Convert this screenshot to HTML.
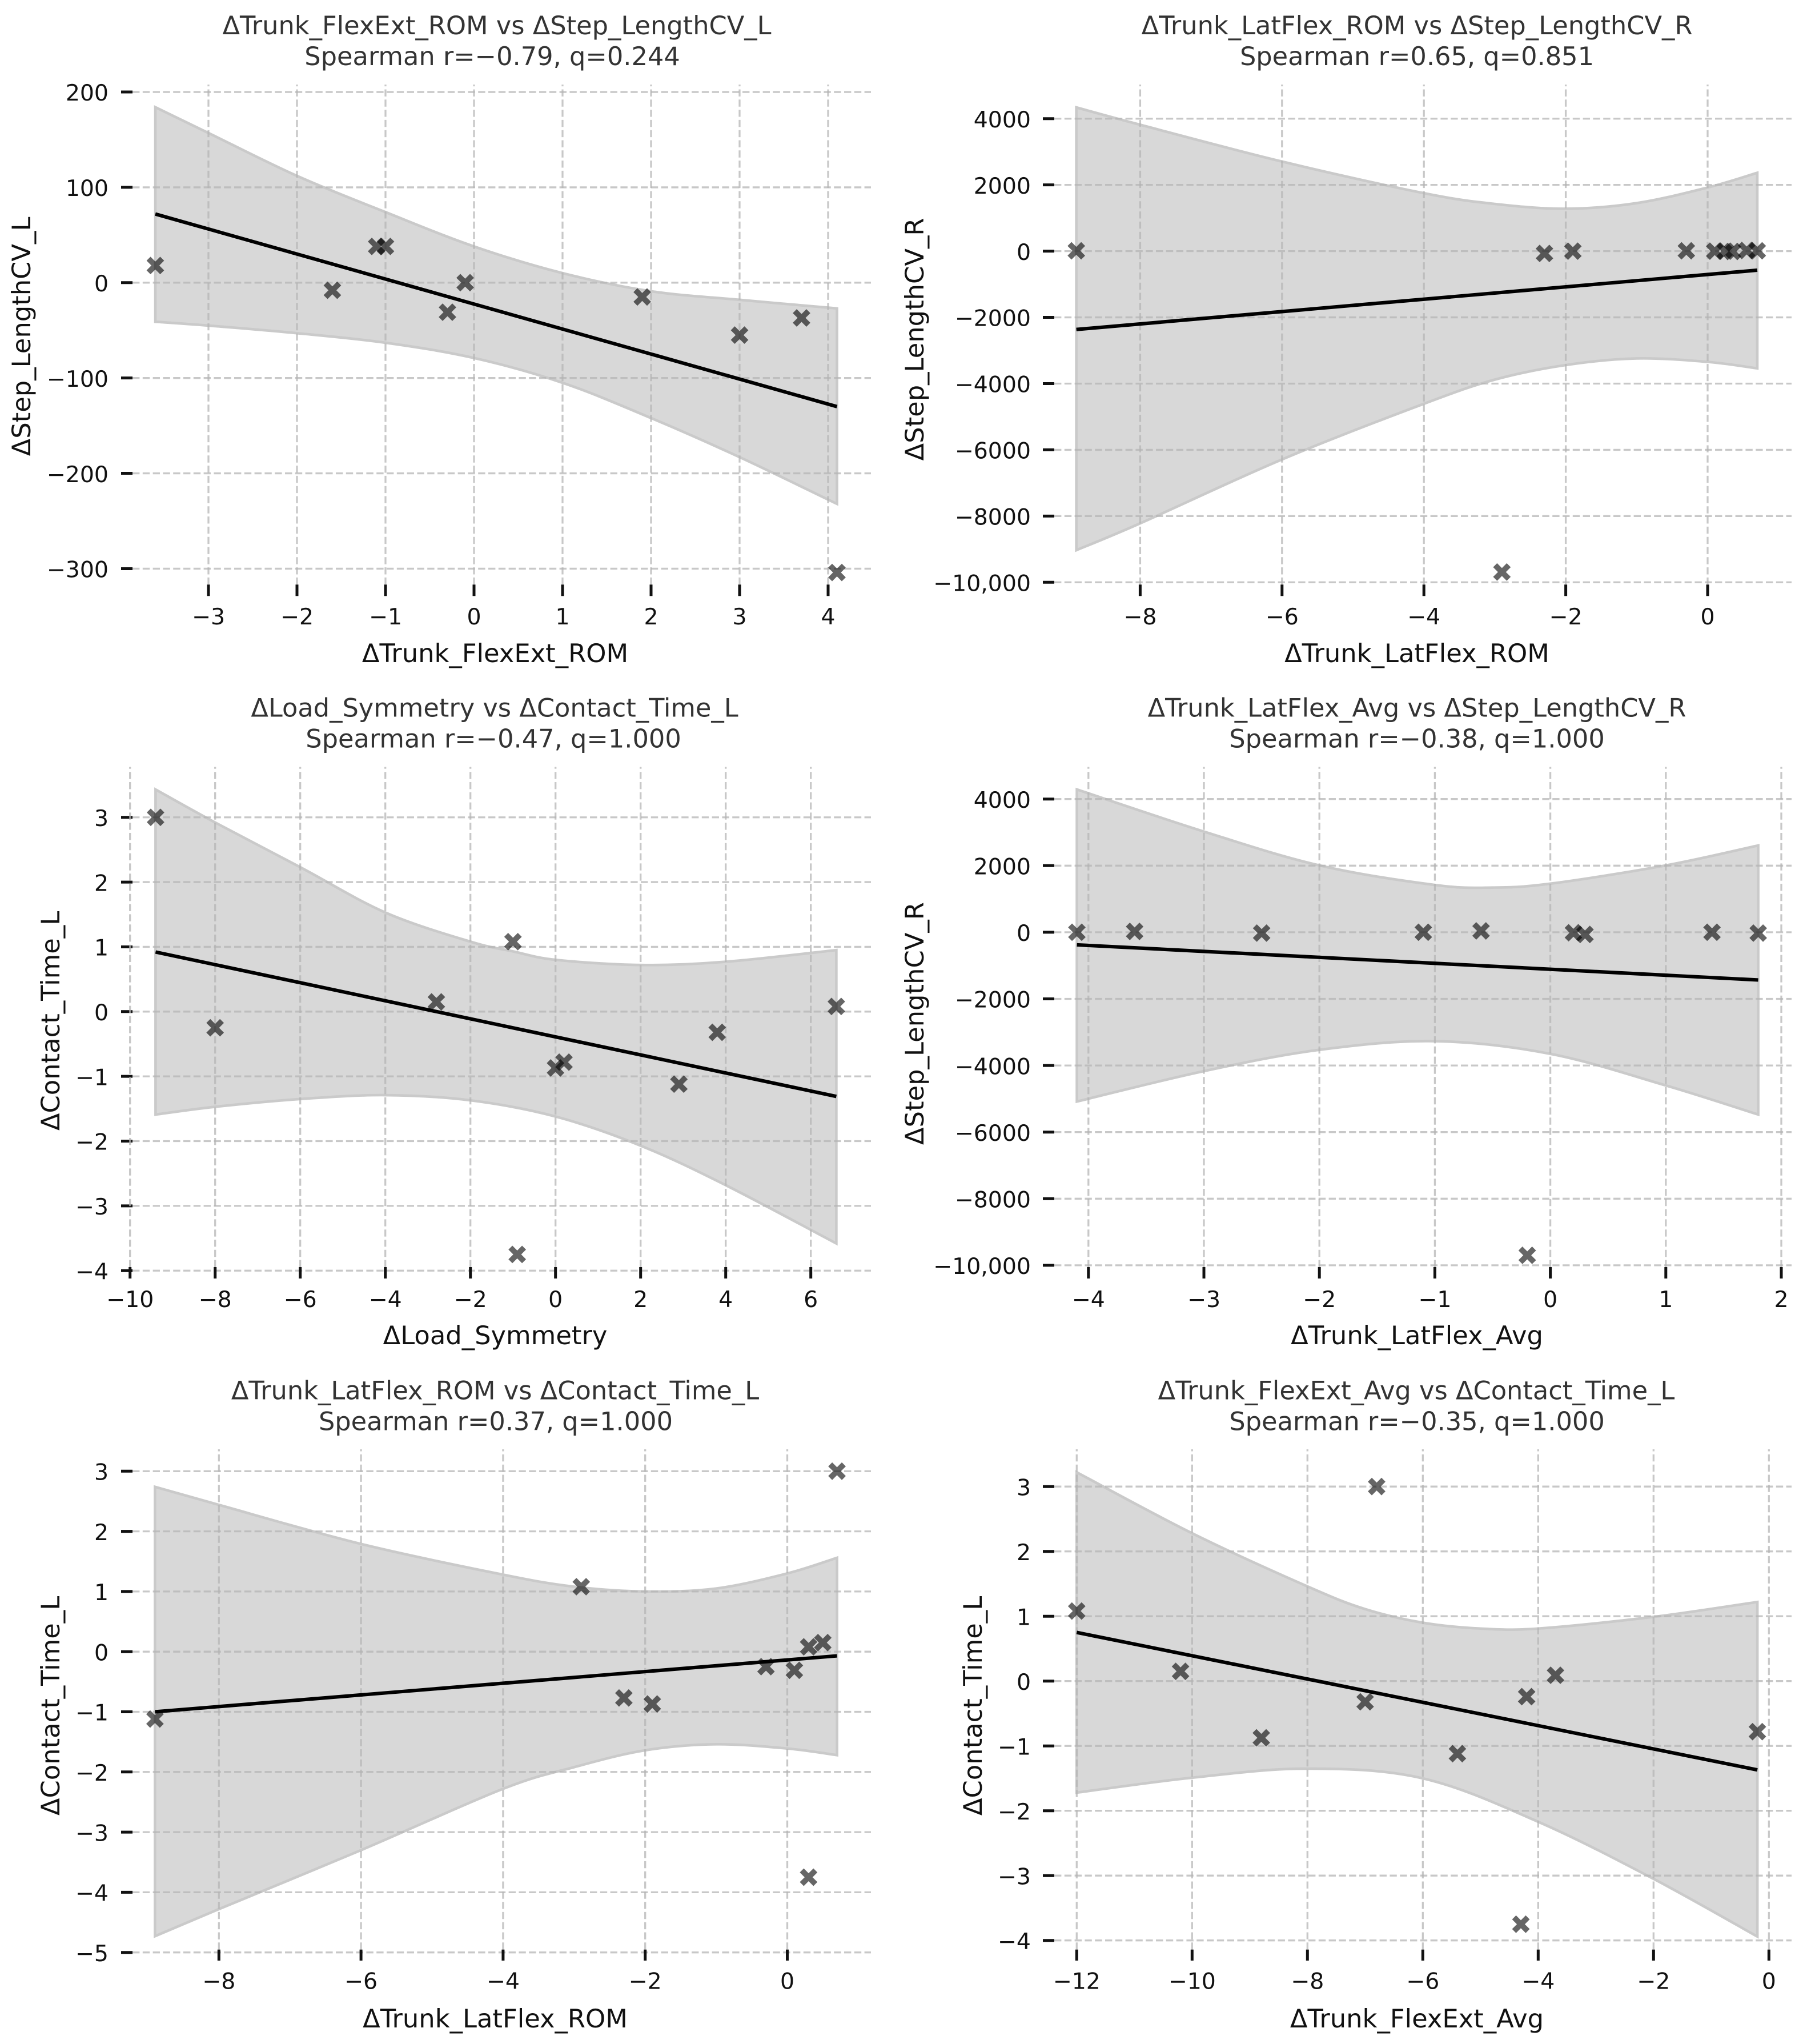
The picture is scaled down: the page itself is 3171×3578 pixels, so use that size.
<!DOCTYPE html>
<html lang="en">
<head>
<meta charset="utf-8">
<title>Spearman correlation scatter panels</title>
<style>
html,body{margin:0;padding:0;background:#fff;}
svg{display:block;}
text{font-family:"DejaVu Sans","Liberation Sans",sans-serif;}
.title{font-size:44.7px;fill:#333;text-anchor:middle;}
.axis-label{font-size:44.8px;fill:#111;text-anchor:middle;}
.tick-label{font-size:39.4px;fill:#111;}
</style>
</head>
<body>
<svg id="figure" xmlns="http://www.w3.org/2000/svg" width="3171" height="3578" viewBox="0 0 3171 3578">
<rect x="0" y="0" width="3171" height="3578" fill="#fff"/>

<g id="panel-1">
<text class="title" x="870" y="60">ΔTrunk_FlexExt_ROM vs ΔStep_LengthCV_L</text>
<text class="title" x="862" y="114">Spearman r=−0.79, q=0.244</text>
<text class="axis-label" x="867" y="1159">ΔTrunk_FlexExt_ROM</text>
<text class="axis-label" transform="translate(53,589) rotate(-90)">ΔStep_LengthCV_L</text>
</g>

<g id="panel-2">
<text class="title" x="2481" y="60">ΔTrunk_LatFlex_ROM vs ΔStep_LengthCV_R</text>
<text class="title" x="2481" y="114">Spearman r=0.65, q=0.851</text>
<text class="axis-label" x="2481" y="1159">ΔTrunk_LatFlex_ROM</text>
<text class="axis-label" transform="translate(1617,594) rotate(-90)">ΔStep_LengthCV_R</text>
</g>

<g id="panel-3">
<text class="title" x="866" y="1254.7">ΔLoad_Symmetry vs ΔContact_Time_L</text>
<text class="title" x="864" y="1308.7">Spearman r=−0.47, q=1.000</text>
<text class="axis-label" x="867" y="2353">ΔLoad_Symmetry</text>
<text class="axis-label" transform="translate(104,1787) rotate(-90)">ΔContact_Time_L</text>
</g>

<g id="panel-4">
<text class="title" x="2481" y="1254.7">ΔTrunk_LatFlex_Avg vs ΔStep_LengthCV_R</text>
<text class="title" x="2481" y="1308.7">Spearman r=−0.38, q=1.000</text>
<text class="axis-label" x="2481" y="2353">ΔTrunk_LatFlex_Avg</text>
<text class="axis-label" transform="translate(1617,1791.6) rotate(-90)">ΔStep_LengthCV_R</text>
</g>

<g id="panel-5">
<text class="title" x="867" y="2449.4">ΔTrunk_LatFlex_ROM vs ΔContact_Time_L</text>
<text class="title" x="868" y="2503.4">Spearman r=0.37, q=1.000</text>
<text class="axis-label" x="867" y="3549">ΔTrunk_LatFlex_ROM</text>
<text class="axis-label" transform="translate(104,2986) rotate(-90)">ΔContact_Time_L</text>
</g>

<g id="panel-6">
<text class="title" x="2480" y="2449.4">ΔTrunk_FlexExt_Avg vs ΔContact_Time_L</text>
<text class="title" x="2481" y="2503.4">Spearman r=−0.35, q=1.000</text>
<text class="axis-label" x="2481" y="3549">ΔTrunk_FlexExt_Avg</text>
<text class="axis-label" transform="translate(1719,2986) rotate(-90)">ΔContact_Time_L</text>
</g>
</svg>

<script>
// Panel 1
const p1PointsX = [-3.6, -1.6, -1.1, -1.0, -0.3, -0.1, 1.9, 3.0, 3.7, 4.1];
const p1PointsY = [18, -8, 38, 38, -31, 0, -15, -55, -37, -304];
const p1LineX = [-3.6, 4.1];
const p1LineY = [72, -130];
const p1BandUpperX = [-3.6, -3, -2, -1, 0, 1, 2, 3, 4.1];
const p1BandUpperY = [184, 157, 112, 74, 38, 10, -9, -18, -27];
const p1BandLowerX = [-3.6, -3, -2, -1, 0, 1, 2, 3, 4.1];
const p1BandLowerY = [-41, -45, -53, -63, -79, -105, -142, -183, -232];
const p1XTicks = [-3, -2, -1, 0, 1, 2, 3, 4];
const p1XTickLabels = ['−3', '−2', '−1', '0', '1', '2', '3', '4'];
const p1YTicks = [200, 100, 0, -100, -200, -300];
const p1YTickLabels = ['200', '100', '0', '−100', '−200', '−300'];

// Panel 2
const p2PointsX = [-8.9, -2.9, -2.3, -1.9, -0.3, 0.1, 0.25, 0.35, 0.55, 0.7];
const p2PointsY = [10, -9690, -70, 0, 10, 0, 0, -10, 20, 10];
const p2LineX = [-8.9, 0.7];
const p2LineY = [-2366, -575];
const p2BandUpperX = [-8.9, -8, -6, -4, -3, -2, -1, 0, 0.7];
const p2BandUpperY = [4340, 3816, 2705, 1750, 1425, 1280, 1450, 1920, 2365];
const p2BandLowerX = [-8.9, -8, -6, -4, -3, -2, -1, 0, 0.7];
const p2BandLowerY = [-9030, -8220, -6290, -4610, -3880, -3440, -3240, -3345, -3540];
const p2XTicks = [-8, -6, -4, -2, 0];
const p2XTickLabels = ['−8', '−6', '−4', '−2', '0'];
const p2YTicks = [4000, 2000, 0, -2000, -4000, -6000, -8000, -10000];
const p2YTickLabels = ['4000', '2000', '0', '−2000', '−4000', '−6000', '−8000', '−10,000'];

// Panel 3
const p3PointsX = [-9.4, -8, -2.8, -1.0, -0.9, 0, 0.2, 2.9, 3.8, 6.6];
const p3PointsY = [3, -0.25, 0.15, 1.08, -3.75, -0.87, -0.78, -1.12, -0.32, 0.08];
const p3LineX = [-9.4, 6.6];
const p3LineY = [0.92, -1.31];
const p3BandUpperX = [-9.4, -8, -6, -4, -2, -1, 0, 2, 4, 6.6];
const p3BandUpperY = [3.43, 2.92, 2.23, 1.53, 1.08, 0.93, 0.8, 0.72, 0.77, 0.95];
const p3BandLowerX = [-9.4, -8, -6, -4, -2, 0, 2, 4, 6.6];
const p3BandLowerY = [-1.59, -1.47, -1.35, -1.29, -1.37, -1.62, -2.07, -2.68, -3.58];
const p3XTicks = [-10, -8, -6, -4, -2, 0, 2, 4, 6];
const p3XTickLabels = ['−10', '−8', '−6', '−4', '−2', '0', '2', '4', '6'];
const p3YTicks = [3, 2, 1, 0, -1, -2, -3, -4];
const p3YTickLabels = ['3', '2', '1', '0', '−1', '−2', '−3', '−4'];

// Panel 4
const p4PointsX = [-4.1, -3.6, -2.5, -1.1, -0.6, -0.2, 0.2, 0.3, 1.4, 1.8];
const p4PointsY = [0, 25, -25, 0, 40, -9700, -15, -65, 0, -25];
const p4LineX = [-4.1, 1.8];
const p4LineY = [-378, -1433];
const p4BandUpperX = [-4.1, -3, -2, -1, -0.5, 0, 1, 1.8];
const p4BandUpperY = [4287, 3023, 2007, 1420, 1342, 1459, 2007, 2606];
const p4BandLowerX = [-4.1, -3, -2, -1, 0, 1, 1.8];
const p4BandLowerY = [-5082, -4170, -3530, -3270, -3650, -4600, -5473];
const p4XTicks = [-4, -3, -2, -1, 0, 1, 2];
const p4XTickLabels = ['−4', '−3', '−2', '−1', '0', '1', '2'];
const p4YTicks = [4000, 2000, 0, -2000, -4000, -6000, -8000, -10000];
const p4YTickLabels = ['4000', '2000', '0', '−2000', '−4000', '−6000', '−8000', '−10,000'];

// Panel 5
const p5PointsX = [-8.9, -2.9, -2.3, -1.9, -0.3, 0.1, 0.3, 0.3, 0.5, 0.7];
const p5PointsY = [-1.12, 1.08, -0.77, -0.87, -0.25, -0.31, 0.08, -3.75, 0.15, 3];
const p5LineX = [-8.9, 0.7];
const p5LineY = [-1.0, -0.07];
const p5BandUpperX = [-8.9, -8, -6, -4, -3, -2, -1, 0, 0.7];
const p5BandUpperY = [2.74, 2.44, 1.79, 1.28, 1.08, 1.0, 1.05, 1.3, 1.56];
const p5BandLowerX = [-8.9, -8, -6, -4, -3, -2, -1, 0, 0.7];
const p5BandLowerY = [-4.73, -4.28, -3.3, -2.28, -1.92, -1.64, -1.54, -1.61, -1.72];
const p5XTicks = [-8, -6, -4, -2, 0];
const p5XTickLabels = ['−8', '−6', '−4', '−2', '0'];
const p5YTicks = [3, 2, 1, 0, -1, -2, -3, -4, -5];
const p5YTickLabels = ['3', '2', '1', '0', '−1', '−2', '−3', '−4', '−5'];

// Panel 6
const p6PointsX = [-12, -10.2, -8.8, -7, -6.8, -5.4, -4.3, -4.2, -3.7, -0.2];
const p6PointsY = [1.08, 0.15, -0.875, -0.32, 3, -1.12, -3.75, -0.24, 0.09, -0.78];
const p6LineX = [-12, -0.2];
const p6LineY = [0.75, -1.37];
const p6BandUpperX = [-12, -10, -8, -7, -6, -5, -4, -2, -0.2];
const p6BandUpperY = [3.22, 2.28, 1.46, 1.11, 0.9, 0.81, 0.81, 0.99, 1.22];
const p6BandLowerX = [-12, -10, -8, -6, -4, -2, -0.2];
const p6BandLowerY = [-1.72, -1.49, -1.35, -1.5, -2.17, -3.05, -3.94];
const p6XTicks = [-12, -10, -8, -6, -4, -2, 0];
const p6XTickLabels = ['−12', '−10', '−8', '−6', '−4', '−2', '0'];
const p6YTicks = [3, 2, 1, 0, -1, -2, -3, -4];
const p6YTickLabels = ['3', '2', '1', '0', '−1', '−2', '−3', '−4'];

// Layout: axis calibration only (no data).
const columnLayout = [
  {tickLeft: 212, tickRight: 232, labelRight: 190, gridRight: 1525},
  {tickLeft: 1826, tickRight: 1846, labelRight: 1805, gridRight: 3137}
];
const rowLayout = [
  {gridTop: 148, tickTop: 1023.3, tickBottom: 1043.3, labelBase: 1093},
  {gridTop: 1342.5, tickTop: 2218, tickBottom: 2238, labelBase: 2288},
  {gridTop: 2537, tickTop: 3412.7, tickBottom: 3432, labelBase: 3481.7}
];

const SVG_NS = 'http://www.w3.org/2000/svg';
const GRID_COLOR = 'rgba(180,180,180,0.73)';

function make(tag, attrs, parent) {
  const el = document.createElementNS(SVG_NS, tag);
  for (const k in attrs) el.setAttribute(k, attrs[k]);
  parent.appendChild(el);
  return el;
}

function smoothSegments(pts) {
  let d = '';
  for (let i = 0; i < pts.length - 1; i++) {
    const p0 = pts[Math.max(i - 1, 0)];
    const p1 = pts[i];
    const p2 = pts[i + 1];
    const p3 = pts[Math.min(i + 2, pts.length - 1)];
    const c1x = p1[0] + (p2[0] - p0[0]) / 6;
    const c1y = p1[1] + (p2[1] - p0[1]) / 6;
    const c2x = p2[0] - (p3[0] - p1[0]) / 6;
    const c2y = p2[1] - (p3[1] - p1[1]) / 6;
    d += ' C' + c1x.toFixed(2) + ' ' + c1y.toFixed(2) + ' ' + c2x.toFixed(2) + ' ' + c2y.toFixed(2) + ' ' + p2[0].toFixed(2) + ' ' + p2[1].toFixed(2);
  }
  return d;
}

function drawPanel(cfg) {
  const col = columnLayout[cfg.col];
  const row = rowLayout[cfg.row];
  const root = document.getElementById(cfg.id);
  const sx = v => cfg.xZero + v * cfg.xUnit;
  const sy = v => cfg.yZero - v * cfg.yUnit;
  const prefix = cfg.id + '-';

  // Confidence band
  const upper = cfg.bandUpperX.map((x, i) => [sx(x), sy(cfg.bandUpperY[i])]);
  const lower = cfg.bandLowerX.map((x, i) => [sx(x), sy(cfg.bandLowerY[i])]).reverse();
  const bandD = 'M' + upper[0][0].toFixed(2) + ' ' + upper[0][1].toFixed(2) + smoothSegments(upper) +
    ' L' + lower[0][0].toFixed(2) + ' ' + lower[0][1].toFixed(2) + smoothSegments(lower) + ' Z';
  const band = make('path', {d: bandD, fill: '#d8d8d8', stroke: '#cacaca', 'stroke-width': 4.6, 'stroke-linejoin': 'miter'}, root);
  
  

  // Horizontal grid + y ticks
  cfg.yTicks.forEach((t, i) => {
    const y = sy(t);
    const grid = make('line', {x1: col.tickRight, x2: col.gridRight, y1: y, y2: y, stroke: GRID_COLOR, 'stroke-width': 3.3, 'stroke-dasharray': '12.4 5.4'}, root);
    
    
    const tick = make('line', {x1: col.tickLeft, x2: col.tickRight, y1: y, y2: y, stroke: '#111', 'stroke-width': 5}, root);
    
    
    const label = make('text', {x: col.labelRight, y: y + 15.2, 'text-anchor': 'end', class: 'tick-label'}, root);
    
    
    label.textContent = cfg.yTickLabels[i];
  });

  // Vertical grid + x ticks
  cfg.xTicks.forEach((t, i) => {
    const x = sx(t);
    const grid = make('line', {x1: x, x2: x, y1: row.tickTop, y2: row.gridTop, stroke: GRID_COLOR, 'stroke-width': 3.3, 'stroke-dasharray': '12.4 5.4'}, root);
    
    
    const tick = make('line', {x1: x, x2: x, y1: row.tickTop, y2: row.tickBottom, stroke: '#111', 'stroke-width': 5}, root);
    
    
    const label = make('text', {x: x, y: row.labelBase, 'text-anchor': 'middle', class: 'tick-label'}, root);
    
    
    label.textContent = cfg.xTickLabels[i];
  });

  // Scatter points (filled X markers)
  const u = 7.7;
  const shape = [[-1.1,-2],[0,-0.9],[1.1,-2],[2,-1.1],[0.9,0],[2,1.1],[1.1,2],[0,0.9],[-1.1,2],[-2,1.1],[-0.9,0],[-2,-1.1]];
  cfg.pointsX.forEach((xv, i) => {
    const cx = sx(xv);
    const cy = sy(cfg.pointsY[i]);
    const pts = shape.map(s => (cx + s[0] * u).toFixed(2) + ',' + (cy + s[1] * u).toFixed(2)).join(' ');
    const mark = make('polygon', {points: pts, fill: 'rgba(0,0,0,0.6)'}, root);
    
    
  });

  // Regression line
  const reg = make('line', {x1: sx(cfg.lineX[0]), y1: sy(cfg.lineY[0]), x2: sx(cfg.lineX[1]), y2: sy(cfg.lineY[1]), stroke: '#000', 'stroke-width': 6.2, 'stroke-linecap': 'butt'}, root);
  
  
}

drawPanel({id: 'panel-1', col: 0, row: 0, xZero: 830, xUnit: 155, yZero: 494.8, yUnit: 1.6688,
  pointsX: p1PointsX, pointsY: p1PointsY, lineX: p1LineX, lineY: p1LineY,
  bandUpperX: p1BandUpperX, bandUpperY: p1BandUpperY, bandLowerX: p1BandLowerX, bandLowerY: p1BandLowerY,
  xTicks: p1XTicks, xTickLabels: p1XTickLabels, yTicks: p1YTicks, yTickLabels: p1YTickLabels});
drawPanel({id: 'panel-2', col: 1, row: 0, xZero: 2990, xUnit: 124.2, yZero: 439.6, yUnit: 0.05797,
  pointsX: p2PointsX, pointsY: p2PointsY, lineX: p2LineX, lineY: p2LineY,
  bandUpperX: p2BandUpperX, bandUpperY: p2BandUpperY, bandLowerX: p2BandLowerX, bandLowerY: p2BandLowerY,
  xTicks: p2XTicks, xTickLabels: p2XTickLabels, yTicks: p2YTicks, yTickLabels: p2YTickLabels});
drawPanel({id: 'panel-3', col: 0, row: 1, xZero: 972.7, xUnit: 74.5, yZero: 1770.8, yUnit: 113.36,
  pointsX: p3PointsX, pointsY: p3PointsY, lineX: p3LineX, lineY: p3LineY,
  bandUpperX: p3BandUpperX, bandUpperY: p3BandUpperY, bandLowerX: p3BandLowerX, bandLowerY: p3BandLowerY,
  xTicks: p3XTicks, xTickLabels: p3XTickLabels, yTicks: p3YTicks, yTickLabels: p3YTickLabels});
drawPanel({id: 'panel-4', col: 1, row: 1, xZero: 2714.6, xUnit: 202.2, yZero: 1631.9, yUnit: 0.0583,
  pointsX: p4PointsX, pointsY: p4PointsY, lineX: p4LineX, lineY: p4LineY,
  bandUpperX: p4BandUpperX, bandUpperY: p4BandUpperY, bandLowerX: p4BandLowerX, bandLowerY: p4BandLowerY,
  xTicks: p4XTicks, xTickLabels: p4XTickLabels, yTicks: p4YTicks, yTickLabels: p4YTickLabels});
drawPanel({id: 'panel-5', col: 0, row: 2, xZero: 1378.5, xUnit: 124.4, yZero: 2891.2, yUnit: 105.3,
  pointsX: p5PointsX, pointsY: p5PointsY, lineX: p5LineX, lineY: p5LineY,
  bandUpperX: p5BandUpperX, bandUpperY: p5BandUpperY, bandLowerX: p5BandLowerX, bandLowerY: p5BandLowerY,
  xTicks: p5XTicks, xTickLabels: p5XTickLabels, yTicks: p5YTicks, yTickLabels: p5YTickLabels});
drawPanel({id: 'panel-6', col: 1, row: 2, xZero: 3097.3, xUnit: 101, yZero: 2942.7, yUnit: 113.5,
  pointsX: p6PointsX, pointsY: p6PointsY, lineX: p6LineX, lineY: p6LineY,
  bandUpperX: p6BandUpperX, bandUpperY: p6BandUpperY, bandLowerX: p6BandLowerX, bandLowerY: p6BandLowerY,
  xTicks: p6XTicks, xTickLabels: p6XTickLabels, yTicks: p6YTicks, yTickLabels: p6YTickLabels});
</script>
</body>
</html>
